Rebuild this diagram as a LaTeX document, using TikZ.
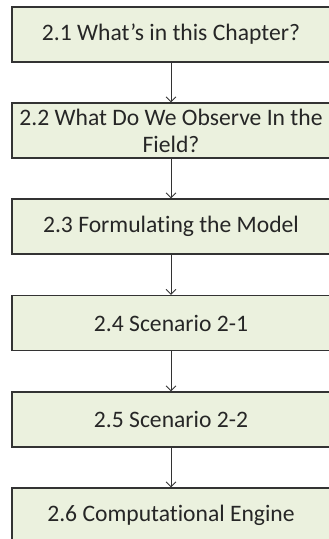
\documentclass[tikz,border=0pt]{standalone}
\usepackage{fontspec}
\setmainfont[Ligatures=NoCommon]{Carlito}
\usepackage{tikz}
\usetikzlibrary{arrows.meta}
\definecolor{boxfill}{HTML}{EBF1DE}
\definecolor{boxline}{HTML}{333333}

\begin{document}
\begin{tikzpicture}[
    x=1pt, y=1pt,
    section/.style={rectangle, draw=boxline, line width=1.1pt, fill=boxfill, minimum width=318pt, minimum height=55pt, inner sep=0pt, align=center, font=\fontsize{23.6}{27}\selectfont, text=black!85},
    link/.style={-{Straight Barb[length=5pt,width=10pt]}, boxline, line width=0.9pt}
]
    \useasboundingbox (0,0) rectangle (329,-539);

    % Chapter sections
    \node[section] (whats) at (171, -34.5) {2.1 What’s in this Chapter?};
    \node[section] (observe) at (171, -130.5) {2.2 What Do We Observe In the\\Field?};
    \node[section] (model) at (171, -226.5) {2.3 Formulating the Model};
    \node[section] (scenA) at (171, -323) {2.4 Scenario 2-1};
    \node[section] (scenB) at (171, -419.5) {2.5 Scenario 2-2};
    \node[section] (engine) at (171, -515.5) {2.6 Computational Engine};

    % Arrows
    \draw[link] (whats) -- (observe);
    \draw[link] (observe) -- (model);
    \draw[link] (model) -- (scenA);
    \draw[link] (scenA) -- (scenB);
    \draw[link] (scenB) -- (engine);
\end{tikzpicture}
\end{document}
